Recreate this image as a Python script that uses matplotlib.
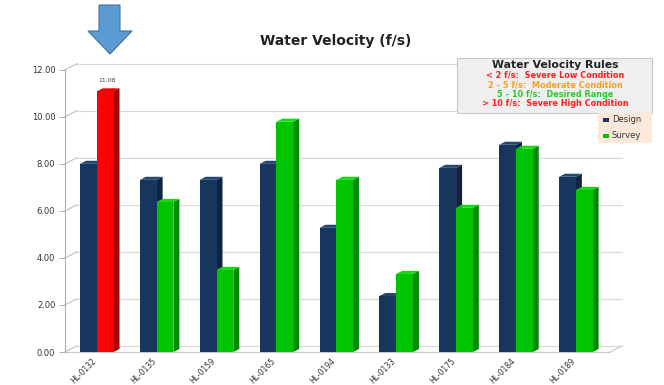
import matplotlib
matplotlib.use("Agg")
import matplotlib.pyplot as plt
from matplotlib.patches import Polygon, Rectangle

# ---- data ----
sites = ["HL-0132", "HL-0135", "HL-0159", "HL-0165", "HL-0194",
         "HL-0133", "HL-0175", "HL-0184", "HL-0189"]
design = [8.00, 7.32, 7.32, 8.00, 5.28, 2.38, 7.83, 8.81, 7.45]
survey = [11.08, 6.38, 3.49, 9.79, 7.32, 3.32, 6.13, 8.64, 6.89]
y_ticks = [0, 2, 4, 6, 8, 10, 12]
flagged_site = 0  # site drawn in red (severe high condition)

rules_title = "Water Velocity Rules"
rules = [("< 2 f/s:  Severe Low Condition", "#ff2020"),
         ("2 - 5 f/s:  Moderate Condition", "#f5a02a"),
         ("5 - 10 f/s:  Desired Range", "#2ec82e"),
         ("> 10 f/s:  Severe High Condition", "#ff2020")]

# ---- styling ----
W, H = 664, 385
fig = plt.figure(figsize=(W / 100, H / 100), dpi=100)
plt.rcParams["font.family"] = ["DejaVu Sans"]

ax_left, ax_right, ax_bottom, ax_top = 65, 610, 352, 58
ax = fig.add_axes([ax_left / W, 1 - ax_bottom / H,
                   (ax_right - ax_left) / W, (ax_bottom - ax_top) / H])
ax.set_xlim(-0.55, 8.55)
ax.set_ylim(0, 12.5)
for s in ["top", "right", "bottom"]:
    ax.spines[s].set_visible(False)
ax.spines["left"].set_bounds(0, 12)
ax.spines["left"].set_color("#b0b0b0")
ax.spines["left"].set_linewidth(0.8)

# depth offsets (data units) for the back wall and for the bar bodies
wall_dx, wall_dy = 0.2, 0.26
bar_dx, bar_dy = 0.10, 0.13

# back wall gridlines, tick connectors, floor edges
for v in y_ticks:
    ax.plot([-0.55 + wall_dx, 8.55 + wall_dx], [v + wall_dy, v + wall_dy],
            color="#d9d9d9", lw=0.9, clip_on=False, zorder=1)
    ax.plot([-0.55, -0.55 + wall_dx], [v, v + wall_dy],
            color="#c0c0c0", lw=0.8, clip_on=False, zorder=1)
ax.plot([-0.55, 8.55], [0, 0], color="#c8c8c8", lw=0.8, clip_on=False, zorder=1)
ax.plot([8.55, 8.55 + wall_dx], [0, wall_dy], color="#c8c8c8", lw=0.8,
        clip_on=False, zorder=1)

ax.set_yticks(y_ticks)
ax.set_yticklabels([f"{v:.2f}" for v in y_ticks], fontsize=6, color="#333333")
ax.tick_params(axis="y", length=4, width=0.7, color="#b0b0b0", pad=3)

ax.set_xticks(range(len(sites)))
ax.set_xticklabels(sites, rotation=45, ha="right", fontsize=5.5, color="#333333")
ax.tick_params(axis="x", length=0, pad=3)


def bar3d(x0, width, value, front, side, top, z):
    x1 = x0 + width
    ax.add_patch(Polygon([(x1, 0), (x1, value), (x1 + bar_dx, value + bar_dy),
                          (x1 + bar_dx, bar_dy)], closed=True,
                         facecolor=side, edgecolor="none", zorder=z))
    ax.add_patch(Polygon([(x0, value), (x1, value), (x1 + bar_dx, value + bar_dy),
                          (x0 + bar_dx, value + bar_dy)], closed=True,
                         facecolor=top, edgecolor="none", zorder=z))
    ax.bar(x0, value, width=width, align="edge", color=front,
           edgecolor="none", zorder=z + 0.1)


bw = 0.28
for i, (d, s) in enumerate(zip(design, survey)):
    z = 3 + i
    bar3d(i - 0.30, bw, d, "#17365d", "#0e2442", "#24456f", z)
    if i == flagged_site:
        bar3d(i - 0.02, bw, s, "#ff0000", "#a80000", "#e00000", z + 0.3)
        ax.text(i - 0.02 + bw / 2 + 0.03, s + 0.35, f"{s:.2f}", fontsize=4.5,
                ha="center", va="bottom", color="#444444")
    else:
        bar3d(i - 0.02, bw, s, "#00c400", "#008a00", "#14d814", z + 0.3)

# title
fig.text(336 / W, 1 - 41 / H, "Water Velocity (f/s)", fontsize=10,
         fontweight="bold", ha="center", va="center", color="#222222")

# velocity rules box
fig.patches.append(Rectangle((457 / W, 1 - 113 / H), 195 / W, 55 / H,
                             transform=fig.transFigure, facecolor="#efefef",
                             edgecolor="#c8c8c8", lw=0.8, zorder=5))
fig.text(555 / W, 1 - 65 / H, rules_title, fontsize=7.8, fontweight="bold",
         ha="center", va="center", color="#222222", zorder=6)
for k, (txt, col) in enumerate(rules):
    fig.text(555 / W, 1 - (75.5 + 9.3 * k) / H, txt, fontsize=5.9, fontweight="bold",
             ha="center", va="center", color=col, zorder=6)

# series legend
fig.patches.append(Rectangle((598 / W, 1 - 143 / H), 54 / W, 30 / H,
                             transform=fig.transFigure, facecolor="#fde9d9",
                             edgecolor="none", zorder=5))
for k, (name, col) in enumerate([("Design", "#17365d"), ("Survey", "#00c400")]):
    yc = 1 - (120 + 16 * k) / H
    fig.patches.append(Rectangle((603 / W, yc - 2 / H), 6 / W, 4 / H,
                                 transform=fig.transFigure, facecolor=col,
                                 edgecolor="none", zorder=6))
    fig.text(612 / W, yc, name, fontsize=6, ha="left", va="center",
             color="#333333", zorder=6)

# pointer arrow above the flagged site
arrow_px = [(99, 5), (120, 5), (120, 31), (132, 31), (110, 54), (88, 31), (99, 31)]
fig.patches.append(Polygon([(x / W, 1 - y / H) for x, y in arrow_px], closed=True,
                           transform=fig.transFigure, facecolor="#5b9bd5",
                           edgecolor="#41719c", lw=0.8, zorder=6))

fig.savefig("out.png", dpi=100)
